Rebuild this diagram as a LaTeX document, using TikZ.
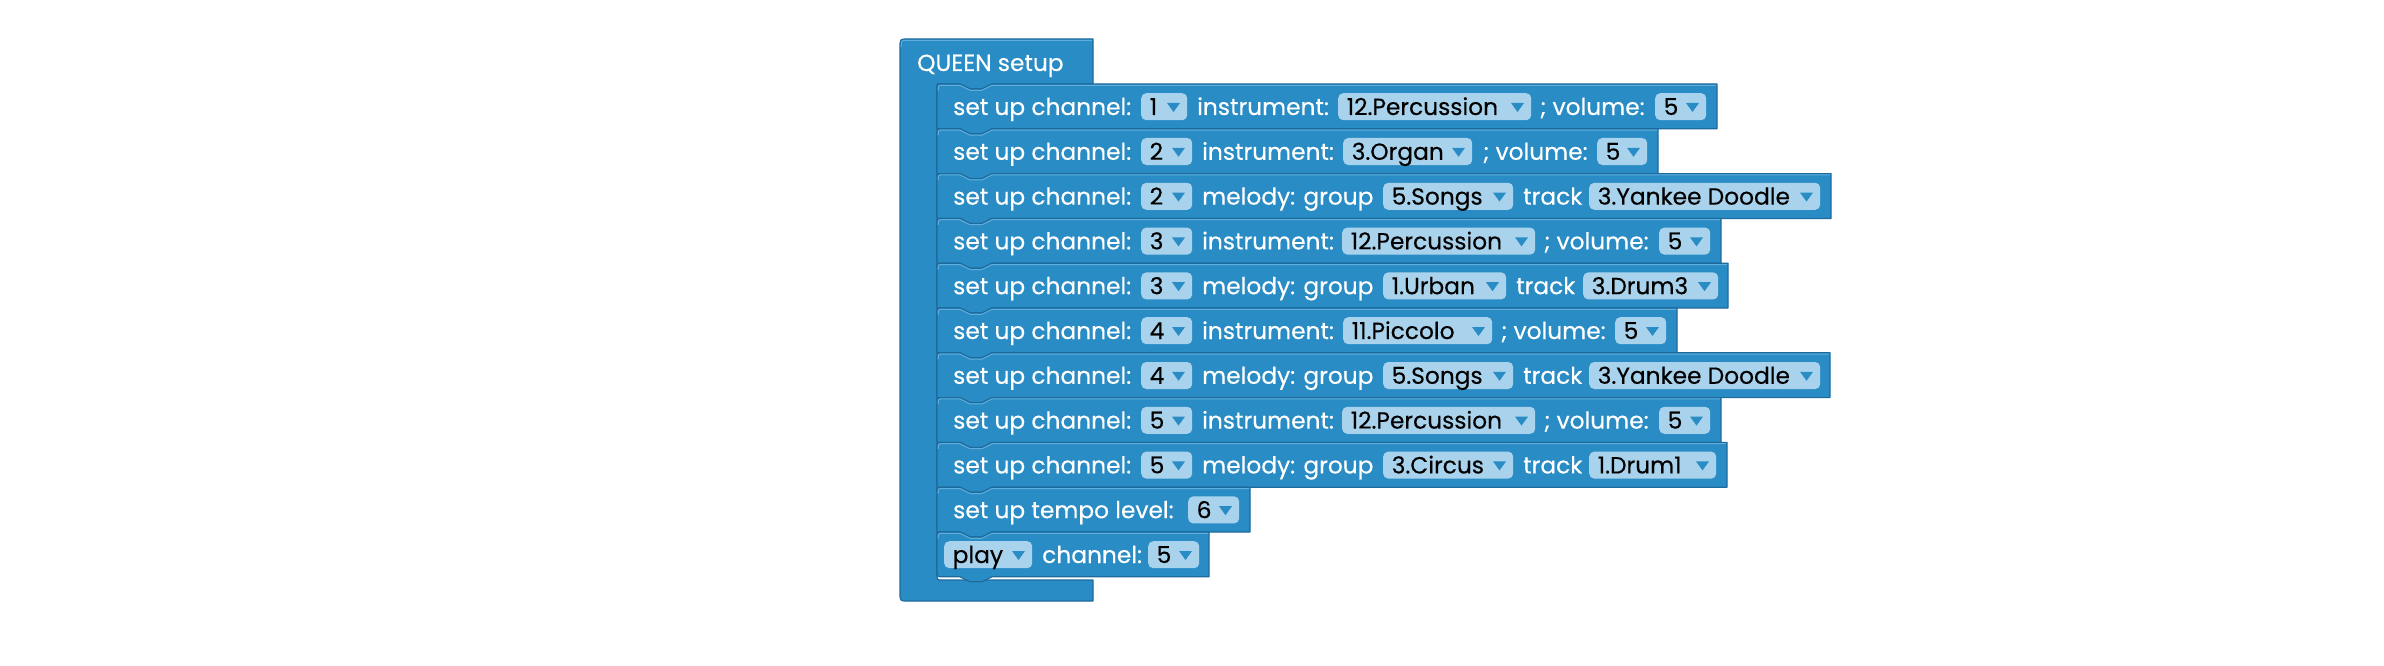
\documentclass[tikz,border=0pt]{standalone}
\usepackage{fontspec}
\setmainfont{Poppins}
\newfontfamily\blkface{Poppins}[FakeBold=0.3]
\newlength\calw
\settowidth\calw{\blkface\fontsize{24pt}{28pt}\selectfont set up channel:}
\pgfmathsetmacro\fsz{24*178/\calw}
\newcommand\blkfont{\blkface\fontsize{\fsz pt}{\fsz pt}\selectfont}
\definecolor{blk}{HTML}{2A8CC5}
\definecolor{blkdark}{HTML}{1D6A9C}
\definecolor{blklight}{HTML}{5FAEDB}
\definecolor{ddfill}{HTML}{A9D3EC}
\tikzset{
 rowsty/.style={fill=blk, draw=blkdark, line width=1.2pt, line join=round},
 hilite/.style={draw=blklight, line width=1pt},
 lbltext/.style={text=white, inner sep=0pt, font=\blkfont},
 ddtext/.style={text=black, inner sep=0pt, font=\blkfont},
 ddbox/.style={fill=ddfill, draw=none, rounded corners=5pt, inner sep=0pt, minimum height=27pt},
 ddarrow/.style={fill=blk}
}
\newcommand\settop[1]{\pgfmathsetmacro\RT{84+44.8*(#1-1)}\pgfmathsetmacro\RB{\RT+44.8}}
% row shape: #1 row index, #2 right x
\newcommand\brow[2]{%
 \settop{#1}%
 \filldraw[rowsty] (937,\RB) -- (937,\RT+6) .. controls (937,\RT) .. (943,\RT) -- (960,\RT) -- (970,\RT+5) -- (982,\RT+5) -- (992,\RT) -- (#2,\RT) -- (#2,\RB) -- (992,\RB) -- (982,\RB+5) -- (970,\RB+5) -- (960,\RB) -- cycle;
 \draw[hilite] (938.2,\RT+6.5) .. controls (938.2,\RT+1.3) .. (943,\RT+1.3) -- (960,\RT+1.3) -- (970,\RT+6.3) -- (982,\RT+6.3) -- (992,\RT+1.3) -- (#2-1,\RT+1.3);
}
% label: #1 name, #2 row, #3 x, #4 text
\newcommand\lb[4]{\settop{#2}\node[lbltext, anchor=base west] (#1) at (#3,\RT+31) {#4};}
% dropdown: #1 name, #2 row, #3 x1, #4 x2, #5 text
\newcommand\dd[5]{\settop{#2}%
 \pgfmathsetmacro\ddw{#4-#3}%
 \node[ddbox, minimum width=\ddw pt, anchor=north west] (#1) at (#3,\RT+9) {};
 \node[ddtext, anchor=base west] (#1t) at (#3+8.5,\RT+31) {#5};
 \fill[ddarrow] (#4-20,\RT+19) -- (#4-7,\RT+19) -- (#4-13.5,\RT+28) -- cycle;}
\begin{document}
\begin{tikzpicture}[x=1pt,y=-1pt]
\fill[white] (0,0) rectangle (2384,666);
\useasboundingbox (0,0) rectangle (2384,666);
% C-shaped container
\filldraw[rowsty] (900,47) .. controls (900,39) .. (908,39) -- (1093,39) -- (1093,84) -- (992,84) -- (982,89) -- (970,89) -- (960,84) -- (937,84) -- (937,574) .. controls (937,580) .. (943,580) -- (1093,580) -- (1093,601) -- (908,601) .. controls (900,601) .. (900,593) -- cycle;
\draw[hilite] (901.2,47) .. controls (901.2,40.3) .. (908,40.3) -- (1092,40.3);
\node[lbltext, anchor=base west] (hdr) at (917,71) {QUEEN setup};
% rows
\brow{1}{1717}
\lb{r1a}{1}{953}{set up channel:}
\dd{r1b}{1}{1141}{1187}{1}
\lb{r1c}{1}{1197}{instrument:}
\dd{r1d}{1}{1338}{1531}{12.Percussion}
\lb{r1e}{1}{1540}{; volume:}
\dd{r1f}{1}{1655}{1706}{5}
\brow{2}{1658}
\lb{r2a}{2}{953}{set up channel:}
\dd{r2b}{2}{1141}{1192}{2}
\lb{r2c}{2}{1202}{instrument:}
\dd{r2d}{2}{1343}{1472}{3.Organ}
\lb{r2e}{2}{1483}{; volume:}
\dd{r2f}{2}{1597}{1647}{5}
\brow{3}{1831}
\lb{r3a}{3}{953}{set up channel:}
\dd{r3b}{3}{1141}{1192}{2}
\lb{r3c}{3}{1202}{melody: group}
\dd{r3d}{3}{1383}{1513}{5.Songs}
\lb{r3e}{3}{1523}{track}
\dd{r3f}{3}{1589}{1820}{3.Yankee Doodle}
\brow{4}{1721}
\lb{r4a}{4}{953}{set up channel:}
\dd{r4b}{4}{1141}{1192}{3}
\lb{r4c}{4}{1202}{instrument:}
\dd{r4d}{4}{1342}{1535}{12.Percussion}
\lb{r4e}{4}{1544}{; volume:}
\dd{r4f}{4}{1659}{1710}{5}
\brow{5}{1728}
\lb{r5a}{5}{953}{set up channel:}
\dd{r5b}{5}{1141}{1192}{3}
\lb{r5c}{5}{1202}{melody: group}
\dd{r5d}{5}{1383}{1506}{1.Urban}
\lb{r5e}{5}{1516}{track}
\dd{r5f}{5}{1583}{1718}{3.Drum3}
\brow{6}{1677}
\lb{r6a}{6}{953}{set up channel:}
\dd{r6b}{6}{1141}{1192}{4}
\lb{r6c}{6}{1202}{instrument:}
\dd{r6d}{6}{1343}{1492}{11.Piccolo}
\lb{r6e}{6}{1501}{; volume:}
\dd{r6f}{6}{1615}{1666}{5}
\brow{7}{1830}
\lb{r7a}{7}{953}{set up channel:}
\dd{r7b}{7}{1141}{1192}{4}
\lb{r7c}{7}{1202}{melody: group}
\dd{r7d}{7}{1383}{1513}{5.Songs}
\lb{r7e}{7}{1523}{track}
\dd{r7f}{7}{1589}{1820}{3.Yankee Doodle}
\brow{8}{1721}
\lb{r8a}{8}{953}{set up channel:}
\dd{r8b}{8}{1141}{1192}{5}
\lb{r8c}{8}{1202}{instrument:}
\dd{r8d}{8}{1342}{1535}{12.Percussion}
\lb{r8e}{8}{1544}{; volume:}
\dd{r8f}{8}{1659}{1710}{5}
\brow{9}{1727}
\lb{r9a}{9}{953}{set up channel:}
\dd{r9b}{9}{1141}{1192}{5}
\lb{r9c}{9}{1202}{melody: group}
\dd{r9d}{9}{1383}{1513}{3.Circus}
\lb{r9e}{9}{1523}{track}
\dd{r9f}{9}{1589}{1716}{1.Drum1}
\brow{10}{1250}
\lb{r10a}{10}{953}{set up tempo level:}
\dd{r10b}{10}{1188}{1239}{6}
% last row, rounded bottom-left
\settop{11}
\filldraw[rowsty] (937,\RB-6) -- (937,\RT+6) .. controls (937,\RT) .. (943,\RT) -- (960,\RT) -- (970,\RT+5) -- (982,\RT+5) -- (992,\RT) -- (1209,\RT) -- (1209,\RB) -- (992,\RB) -- (982,\RB+5) -- (970,\RB+5) -- (960,\RB) -- (943,\RB) .. controls (937,\RB) .. (937,\RB-6) -- cycle;
\draw[hilite] (938.2,\RT+6.5) .. controls (938.2,\RT+1.3) .. (943,\RT+1.3) -- (960,\RT+1.3) -- (970,\RT+6.3) -- (982,\RT+6.3) -- (992,\RT+1.3) -- (1208,\RT+1.3);
\dd{r11a}{11}{944}{1032}{play}
\lb{r11b}{11}{1042}{channel:}
\dd{r11c}{11}{1148}{1199}{5}
\end{tikzpicture}
\end{document}
